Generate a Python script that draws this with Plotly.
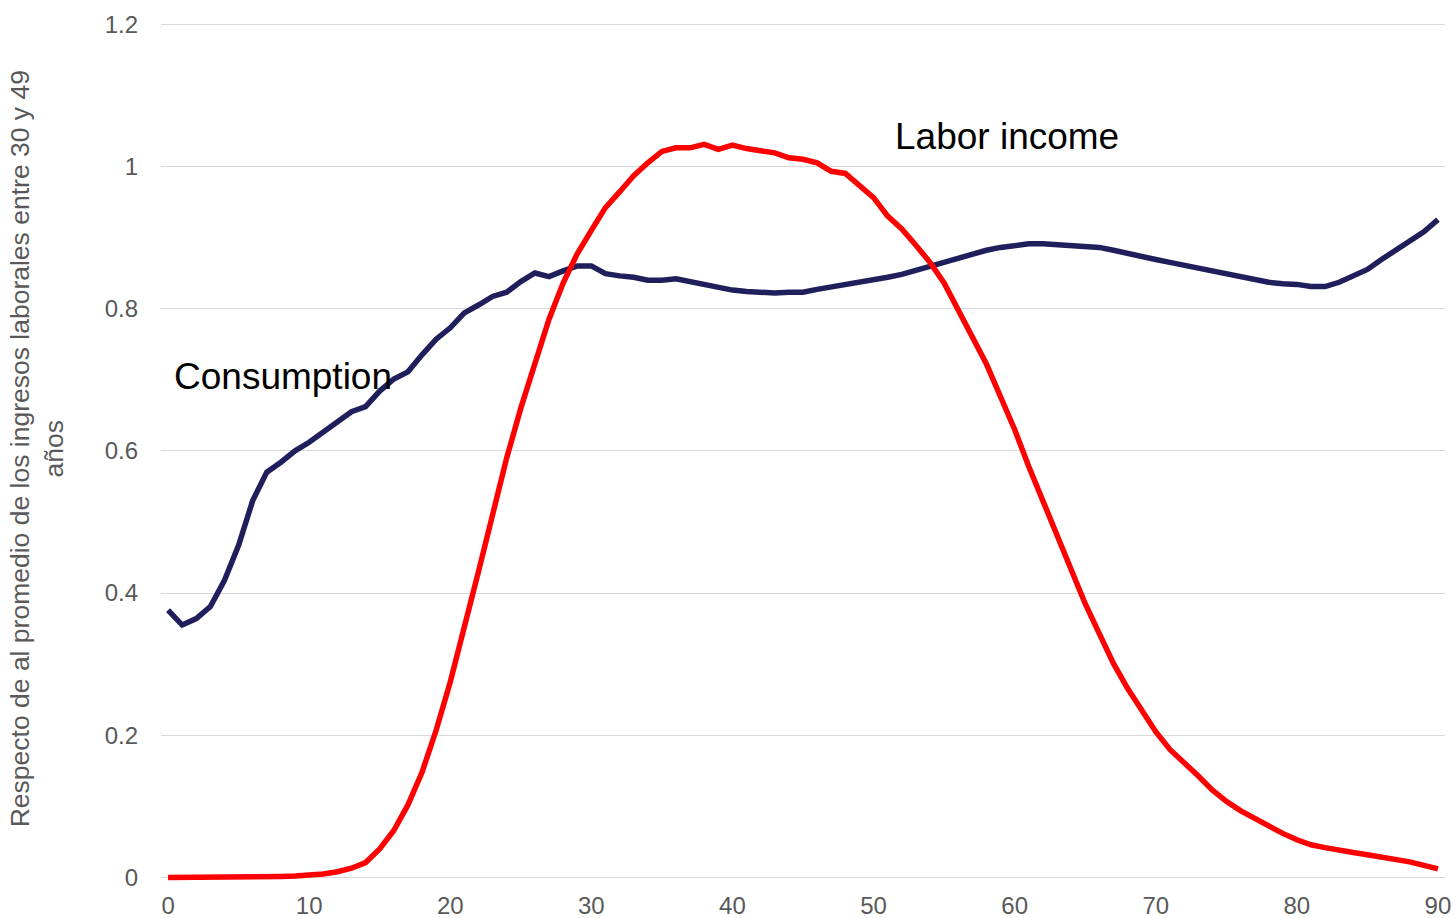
import plotly.graph_objects as go

ages = list(range(0, 91))

consumption = [
    0.376, 0.355, 0.364, 0.381, 0.418, 0.467, 0.530, 0.570, 0.584, 0.600,
    0.612, 0.626, 0.640, 0.655, 0.662, 0.684, 0.701, 0.711, 0.735, 0.757,
    0.773, 0.794, 0.805, 0.817, 0.823, 0.838, 0.850, 0.845, 0.853, 0.860,
    0.860, 0.849, 0.846, 0.844, 0.840, 0.840, 0.842, 0.838, 0.835, 0.830,
    0.826, 0.824, 0.823, 0.822, 0.823, 0.823, 0.827, 0.830, 0.834, 0.837,
    0.840, 0.844, 0.848, 0.854, 0.860, 0.866, 0.871, 0.877, 0.882, 0.886,
    0.889, 0.891, 0.891, 0.890, 0.889, 0.888, 0.886, 0.882, 0.877, 0.873,
    0.869, 0.865, 0.861, 0.857, 0.852, 0.848, 0.844, 0.840, 0.837, 0.835,
    0.834, 0.831, 0.831, 0.837, 0.845, 0.855, 0.869, 0.882, 0.894, 0.908,
    0.925,
]

labor_income = [
    0.000, 0.000, 0.000, 0.000, 0.000, 0.0005, 0.001, 0.001, 0.0015, 0.002,
    0.003, 0.005, 0.008, 0.013, 0.021, 0.040, 0.066, 0.102, 0.148, 0.207,
    0.275, 0.350, 0.430, 0.510, 0.590, 0.660, 0.725, 0.785, 0.836, 0.877,
    0.910, 0.942, 0.964, 0.987, 1.005, 1.021, 1.026, 1.026, 1.031, 1.024,
    1.030, 1.025, 1.022, 1.019, 1.012, 1.010, 1.005, 0.993, 0.990, 0.974,
    0.956, 0.930, 0.912, 0.889, 0.865, 0.836, 0.798, 0.760, 0.722, 0.676,
    0.630, 0.578, 0.530, 0.482, 0.430, 0.385, 0.343, 0.301, 0.266, 0.236,
    0.205, 0.180, 0.162, 0.143, 0.123, 0.107, 0.094, 0.083, 0.072, 0.062,
    0.053, 0.046, 0.042, 0.038, 0.035, 0.032, 0.029, 0.026, 0.022, 0.017,
    0.012,
]

x_ticks = [0, 10, 20, 30, 40, 50, 60, 70, 80, 90]
y_ticks = [0, 0.2, 0.4, 0.6, 0.8, 1, 1.2]
y_tick_labels = ["0", "0.2", "0.4", "0.6", "0.8", "1", "1.2"]

y_title = "Respecto de al promedio de los ingresos laborales entre 30 y 49<br>años"

fig = go.Figure()
fig.add_trace(go.Scatter(x=ages, y=consumption, mode="lines", name="Consumption",
                         line=dict(color="#1F1F5C", width=5.5)))
fig.add_trace(go.Scatter(x=ages, y=labor_income, mode="lines", name="Labor income",
                         line=dict(color="#FF0000", width=5.5)))

fig.add_annotation(x=0.3, y=0.705, xref="x", yref="y", text="Consumption",
                   showarrow=False, xanchor="left", yanchor="middle",
                   font=dict(family="Liberation Sans, Arial", size=37, color="#000000"))
fig.add_annotation(x=51.4, y=1.042, xref="x", yref="y", text="Labor income",
                   showarrow=False, xanchor="left", yanchor="middle",
                   font=dict(family="Liberation Sans, Arial", size=37, color="#000000"))

fig.add_annotation(x=-0.097, y=0.506, xref="paper", yref="paper", text=y_title,
                   showarrow=False, textangle=-90, xanchor="center", yanchor="middle",
                   align="center",
                   font=dict(family="Liberation Sans, Arial", size=26.5, color="#595959"))

fig.update_layout(
    width=1454, height=918,
    margin=dict(l=161, r=9, t=22, b=32),
    paper_bgcolor="white", plot_bgcolor="white",
    showlegend=False,
    font=dict(family="Liberation Sans, Arial", color="#595959", size=24),
)
fig.update_xaxes(range=[-0.5, 90.5], tickmode="array", tickvals=x_ticks,
                 showgrid=False, zeroline=False, showline=False, ticks="",
                 automargin=False, ticklabelstandoff=3,
                 tickfont=dict(size=24, color="#595959"))
fig.update_yaxes(range=[-0.012, 1.203], tickmode="array", tickvals=y_ticks,
                 ticktext=y_tick_labels, showgrid=True, gridcolor="#D9D9D9",
                 gridwidth=1, zeroline=False, showline=False, ticks="",
                 ticklabelstandoff=22, automargin=False,
                 tickfont=dict(size=24, color="#595959"))

fig.write_html("out.html", config={"displayModeBar": False},
               post_script="document.body.style.margin='0';document.body.style.padding='0';")
